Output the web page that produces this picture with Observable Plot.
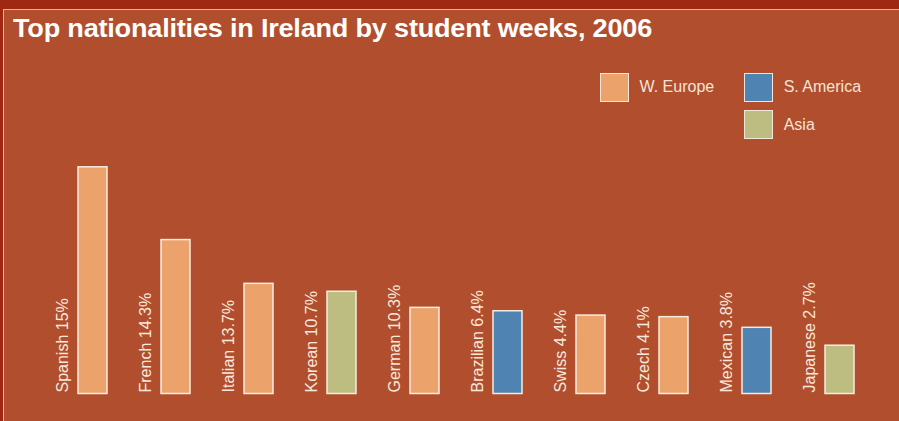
<!DOCTYPE html>
<html>
<head>
<meta charset="utf-8">
<script src="https://cdn.jsdelivr.net/npm/d3@7"></script>
<script src="https://cdn.jsdelivr.net/npm/@observablehq/plot@0.6"></script>
<style>
  html, body { margin: 0; padding: 0; }
  body { width: 899px; height: 421px; background: #9e2811; position: relative; overflow: hidden; font-family: "Liberation Sans", Arial, sans-serif; }
  #panel { position: absolute; left: 3px; top: 8.5px; right: 0; bottom: 0; background: #b04e2e; border-top: 1.5px solid #eab293; border-left: 1.5px solid #eab293; }
  #title { position: absolute; left: 13px; top: 14px; color: #ffffff; font-weight: bold; font-size: 25px; white-space: nowrap; transform-origin: 0 0; letter-spacing: -0.2px; }
  #chart { position: absolute; left: 0; top: 0; }
  .lg { position: absolute; display: flex; align-items: center; color: #f6e3d6; font-size: 16px; }
  .sw { width: 27px; height: 27px; border: 1.5px solid #f4e6da; margin-right: 11px; }
</style>
</head>
<body>
<div id="panel"></div>
<div id="chart"></div>
<div id="title">Top nationalities in Ireland by student weeks, 2006</div>
<div id="legend"></div>
<script>
// Data
const nationalities = ["Spanish", "French", "Italian", "Korean", "German", "Brazilian", "Swiss", "Czech", "Mexican", "Japanese"];
const shares = [15, 14.3, 13.7, 10.7, 10.3, 6.4, 4.4, 4.1, 3.8, 2.7];
// drawn bar heights, relative (Spanish = 100)
const barIndex = [100, 67.9, 48.6, 45.1, 38.0, 36.5, 34.6, 33.9, 29.2, 21.3];
const regions = ["W. Europe", "W. Europe", "W. Europe", "Asia", "W. Europe", "S. America", "W. Europe", "W. Europe", "S. America", "Asia"];
const regionNames = ["W. Europe", "S. America", "Asia"];
const regionColors = ["#eca36b", "#4f83b1", "#bdbd82"];

const data = nationalities.map((n, i) => ({
  nationality: n, share: shares[i], value: barIndex[i], region: regions[i],
  label: `${n} ${shares[i]}%`
}));

const chart = Plot.plot({
  width: 899,
  height: 421,
  marginLeft: 52,
  marginRight: 18.7,
  marginTop: 166.8,
  marginBottom: 27.5,
  style: { background: "transparent", overflow: "visible" },
  x: { domain: nationalities, paddingInner: 0.65, paddingOuter: 0.3, axis: null },
  y: { domain: [0, 100], axis: null },
  color: { domain: regionNames, range: regionColors },
  marks: [
    Plot.barY(data, { x: "nationality", y: "value", fill: "region", stroke: "#f5ebe1", strokeWidth: 1.5 }),
    Plot.text(data, {
      x: "nationality", y: 0, text: "label", rotate: -90, textAnchor: "start",
      dx: -30.5, dy: -1.5, fill: "#f8e8dc", fontSize: 16,
      fontFamily: "'Liberation Sans', Arial, sans-serif"
    })
  ]
});
document.getElementById("chart").appendChild(chart);

// Legend (HTML)
const legendPos = [[599.5, 72.7], [743.7, 72.7], [743.7, 110]];
const legend = document.getElementById("legend");
regionNames.forEach((r, i) => {
  const d = document.createElement("div");
  d.className = "lg";
  d.style.left = legendPos[i][0] + "px";
  d.style.top = legendPos[i][1] + "px";
  const sw = document.createElement("div");
  sw.className = "sw";
  sw.style.background = regionColors[i];
  const t = document.createElement("span");
  t.textContent = r;
  d.appendChild(sw); d.appendChild(t);
  legend.appendChild(d);
});

// fit title width to the reference (~639px)
const title = document.getElementById("title");
const w = title.getBoundingClientRect().width;
title.style.transform = `scaleX(${639 / w})`;
</script>
</body>
</html>
